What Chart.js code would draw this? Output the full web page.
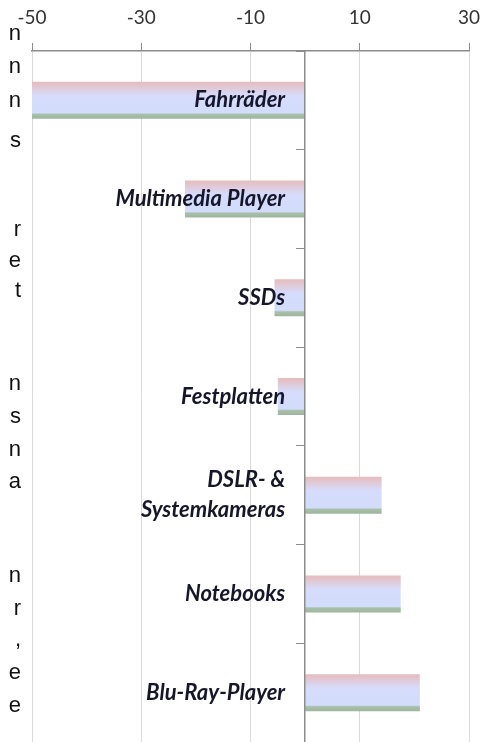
<!DOCTYPE html>
<html>
<head>
<meta charset="utf-8">
<script src="https://cdn.jsdelivr.net/npm/chart.js@4.4.1/dist/chart.umd.min.js"></script>
<style>
  body { margin: 0; background: #fff; }
  #wrap { position: relative; width: 496px; height: 742px; overflow: hidden; }
  #side { position: absolute; left: 0; top: 0; width: 21px; height: 742px; pointer-events: none;
          font-family: "Liberation Sans", Arial, sans-serif; font-size: 22px; color: #111; }
  #side span { position: absolute; right: 0; line-height: 1; }
</style>
</head>
<body>
<div id="wrap">
  <canvas id="chart"></canvas>
  <div id="side"></div>
</div>
<script>
var categories = ["Fahrräder", "Multimedia Player", "SSDs", "Festplatten",
    ["DSLR- &", "Systemkameras"], "Notebooks", "Blu-Ray-Player"];
var values = [-50, -22, -5.6, -5, 14, 17.5, 21];
var xTicks = [-50, -30, -10, 10, 30];

// cut-off line ends of the text column on the left
var sideChars = ["n", "n", "n", "s", "r", "e", "t", "n", "s", "n", "a", "n", "r", ",", "e", "e"];
var sideTops = [22, 55, 89, 129, 218, 249, 279, 372, 405, 438, 470, 564, 597, 628, 661, 694];

var side = document.getElementById("side");
sideChars.forEach(function (c, i) {
    var s = document.createElement("span");
    s.textContent = c;
    s.style.top = sideTops[i] + "px";
    side.appendChild(s);
});

var barPct = 0.375;
var labelGap = "\u2003 "; // keeps the labels clear of the zero line

function barFill(context) {
    var chart = context.chart;
    var area = chart.chartArea;
    if (!area || !chart.scales.y) {
        return "#d4dcfc";
    }
    var y = chart.scales.y.getPixelForValue(context.dataIndex);
    var band = (area.bottom - area.top) / categories.length;
    var half = band * barPct / 2;
    var g = chart.ctx.createLinearGradient(0, y - half, 0, y + half);
    g.addColorStop(0, "#e6bcbc");
    g.addColorStop(0.38, "#d6dcfc");
    g.addColorStop(0.84, "#d2dcfb");
    g.addColorStop(0.88, "#a9bfa9");
    g.addColorStop(1, "#9db59d");
    return g;
}

var ctx = document.getElementById("chart").getContext("2d");
var chart = new Chart(ctx, {
    type: "bar",
    data: {
        labels: categories,
        datasets: [{
            data: values,
            backgroundColor: barFill,
            borderWidth: 0,
            categoryPercentage: 1,
            barPercentage: barPct
        }]
    },
    options: {
        indexAxis: "y",
        responsive: true,
        maintainAspectRatio: false,
        animation: false,
        layout: { padding: { left: 32, right: 27, top: 0, bottom: 0 } },
        plugins: {
            legend: { display: false },
            tooltip: { enabled: false }
        },
        scales: {
            x: {
                position: "top",
                min: -50,
                max: 30,
                afterBuildTicks: function (axis) {
                    axis.ticks = xTicks.map(function (v) { return { value: v }; });
                },
                afterFit: function (axis) {
                    axis.height = 51;
                },
                grid: { color: "#d9d9d9", lineWidth: 1, tickColor: "#8c8c8c", tickLength: 8 },
                border: { color: "#8c8c8c", width: 1.5 },
                ticks: {
                    color: "#333",
                    padding: 14,
                    maxRotation: 0,
                    font: { family: "Lato", size: 19 }
                }
            },
            y: {
                position: { x: 0 },
                afterFit: function (axis) {
                    axis.paddingTop = 0;
                    axis.paddingBottom = 0;
                },
                grid: { drawOnChartArea: false, color: "#8c8c8c", tickLength: 8, offset: true },
                border: { color: "#8c8c8c", width: 1.5, z: 1 },
                ticks: {
                    z: 1,
                    color: "#16162a",
                    font: { family: "Lato", size: 22, weight: "bold", style: "italic", lineHeight: 1.38 },
                    callback: function (value) {
                        var lab = this.getLabelForValue(value);
                        var lines = Array.isArray(categories[value]) ? categories[value] : [lab];
                        return lines.map(function (l) { return l + labelGap; });
                    }
                }
            }
        }
    }
});
</script>
</body>
</html>
